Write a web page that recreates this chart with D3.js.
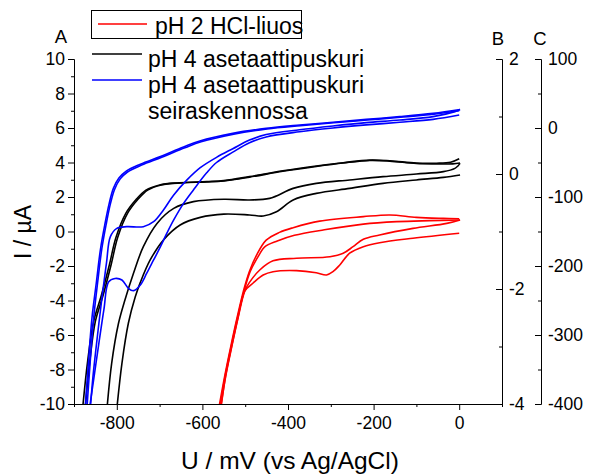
<!DOCTYPE html>
<html><head><meta charset="utf-8">
<script src="https://cdn.jsdelivr.net/npm/d3@7"></script>
<style>
body{margin:0;background:#fff;}
svg{display:block;font-family:"Liberation Sans",Arial,Helvetica,sans-serif;}
</style></head><body>
<svg id="chart" width="593" height="475"></svg>
<script>
// ---- tick labels / axes values ----
const xMajorTicks = [-800, -600, -400, -200, 0];
const xMinorTicks = [-900, -700, -500, -300, -100, 100];
const aMajorTicks = [-10, -8, -6, -4, -2, 0, 2, 4, 6, 8, 10];
const aMinorTicks = [-9, -7, -5, -3, -1, 1, 3, 5, 7, 9];
const bMajorTicks = [-4, -2, 0, 2];
const bMinorTicks = [-3, -1, 1];
const cMajorTicks = [-400, -300, -200, -100, 0, 100];
const cMinorTicks = [-350, -250, -150, -50, 50];
const legendLabels = ["pH 2 HCl-liuos", "pH 4 asetaattipuskuri", "pH 4 asetaattipuskuri", "seiraskennossa"];

// ---- series: [U (mV), I (µA)] ----
// pH 2 HCl-liuos (red)
const redScan1Neg = [[0,-0.1],[-108,-0.39],[-186,-0.65],[-224,-0.88],[-256,-1.26],[-279,-1.94],[-295,-2.33],[-310,-2.52],[-334,-2.39],[-380,-2.27],[-435,-2.33],[-458,-2.52],[-482,-3.0],[-501,-3.45],[-517,-5.0],[-532,-6.7],[-546,-8.4],[-557,-10.3]];
const redScan1Pos = [[-560,-10.3],[-547,-8.4],[-533,-6.7],[-518,-5.0],[-502,-3.4],[-488,-2.3],[-466,-1.3],[-455,-0.9],[-425,-0.55],[-385,-0.22],[-315,0.1],[-224,0.43],[-146,0.57],[-69,0.63],[2,0.67]];
const redScan2Neg = [[2,0.67],[-29,0.47],[-108,0.18],[-186,-0.2],[-224,-0.45],[-248,-0.88],[-271,-1.26],[-302,-1.46],[-380,-1.55],[-435,-1.7],[-466,-2.23],[-490,-2.95],[-501,-3.45],[-517,-5.05],[-532,-6.75],[-546,-8.45],[-558,-10.3]];
const redScan2Pos = [[-562,-10.3],[-548,-8.4],[-534,-6.7],[-519,-5.0],[-503,-3.35],[-490,-2.3],[-474,-1.4],[-451,-0.5],[-420,-0.05],[-388,0.22],[-326,0.6],[-224,0.86],[-162,0.96],[-100,0.82],[-37,0.76],[0,0.74]];

// pH 4 asetaattipuskuri (black)
const blackScan1Neg = [[2,3.28],[-37,3.14],[-100,2.99],[-178,2.79],[-256,2.5],[-334,2.21],[-388,1.83],[-427,1.15],[-458,0.9],[-490,0.96],[-550,1.01],[-605,0.82],[-652,0.38],[-691,-0.49],[-722,-1.65],[-745,-2.95],[-757,-3.8],[-773,-5.32],[-788,-7.64],[-800,-10.3]];
const blackScan1Pos = [[-874,-10.3],[-863,-7.5],[-850,-5.2],[-832,-3.7],[-813,-1.9],[-798,-0.35],[-775,1.05],[-751,1.85],[-728,2.4],[-696,2.7],[-650,2.82],[-590,2.87],[-550,2.93],[-490,3.15],[-412,3.49],[-334,3.77],[-271,3.97],[-209,4.12],[-162,4.08],[-100,3.94],[-53,3.92],[-15,3.92],[2,3.97]];
const blackScan2Neg = [[2,3.95],[-3,3.8],[-10,3.66],[-37,3.47],[-100,3.33],[-178,3.18],[-256,2.99],[-334,2.79],[-388,2.5],[-443,1.92],[-490,1.83],[-550,1.87],[-621,1.73],[-667,1.34],[-706,0.47],[-738,-0.88],[-761,-2.42],[-781,-3.97],[-796,-5.32],[-812,-7.64],[-823,-10.3]];
const blackScan2Pos = [[-880,-10.3],[-868,-7.5],[-854,-5.2],[-836,-3.7],[-817,-1.9],[-802,-0.35],[-779,1.05],[-755,1.85],[-732,2.4],[-700,2.7],[-654,2.82],[-590,2.89],[-550,2.95],[-490,3.18],[-412,3.52],[-334,3.8],[-271,3.99],[-209,4.14],[-162,4.1],[-100,3.97],[-53,3.96],[-20,4.02],[0,4.22]];

// pH 4 asetaattipuskuri seiraskennossa (blue)
const blueScan1Neg = [[0,6.75],[-61,6.5],[-139,6.33],[-217,6.18],[-295,6.0],[-373,5.78],[-451,5.48],[-490,5.15],[-529,4.6],[-567,4.0],[-590,3.4],[-621,2.41],[-644,1.63],[-667,0.67],[-683,-0.1],[-698,-0.88],[-714,-1.65],[-730,-2.42],[-745,-3.1],[-761,-3.43],[-773,-3.29],[-788,-2.81],[-804,-2.72],[-819,-2.91],[-830,-4.5],[-842,-6.5],[-853,-8.4],[-864,-10.3]];
const blueScan1Pos = [[-874,-10.3],[-866,-7.5],[-858,-5],[-848,-3],[-838,-1],[-828,0.4],[-818,1.6],[-808,2.5],[-795,3.1],[-778,3.5],[-745,3.9],[-698,4.35],[-644,4.9],[-606,5.25],[-529,5.69],[-451,5.98],[-373,6.17],[-295,6.33],[-217,6.5],[-139,6.66],[-61,6.85],[2,7.07]];
const blueScan2Neg = [[2,7.07],[-10,6.95],[-61,6.66],[-139,6.46],[-217,6.31],[-295,6.12],[-373,5.9],[-451,5.62],[-490,5.3],[-529,4.8],[-567,4.3],[-605,3.7],[-636,2.99],[-667,2.12],[-691,1.25],[-714,0.57],[-738,0.28],[-777,0.28],[-800,0.18],[-815,-0.3],[-824,-1.8],[-833,-3.5],[-845,-6],[-856,-8.5],[-862,-10.3]];
const blueScan2Pos = [[-870,-10.3],[-862,-7.5],[-854,-5],[-845,-3],[-835,-1],[-825,0.4],[-815,1.6],[-805,2.45],[-792,3.05],[-775,3.45],[-742,3.85],[-695,4.3],[-641,4.85],[-603,5.2],[-527,5.64],[-449,5.94],[-371,6.13],[-293,6.3],[-215,6.46],[-137,6.62],[-59,6.8],[0,7.0]];

const seriesColors = ["#ff0000", "#000000", "#0000ff"];
const seriesData = [
  [redScan1Neg, redScan1Pos, redScan2Neg, redScan2Pos],
  [blackScan1Neg, blackScan1Pos, blackScan2Neg, blackScan2Pos],
  [blueScan1Neg, blueScan1Pos, blueScan2Neg, blueScan2Pos]
];

// ---- layout ----
const svg = d3.select("#chart");
const plotLeft = 74, plotRight = 502, plotTop = 59, plotBottom = 404, cAxisX = 541;
const x = d3.scaleLinear().domain([-900, 100]).range([plotLeft, plotRight]);
const yA = d3.scaleLinear().domain([-10, 10]).range([plotBottom, plotTop]);
const yB = d3.scaleLinear().domain([-4, 2]).range([plotBottom, plotTop]);
const yC = d3.scaleLinear().domain([-400, 100]).range([plotBottom, plotTop]);
const FONT = '"Liberation Sans", Arial, Helvetica, sans-serif';
const fmt = d => String(d);

function style(g, fs) {
  g.selectAll("path.domain").attr("stroke", "#000").attr("stroke-width", 1);
  g.selectAll(".tick line").attr("stroke", "#000").attr("stroke-width", 1);
  g.selectAll("text").attr("font-size", fs).attr("font-family", FONT).attr("fill", "#000");
}

// clip
svg.append("defs").append("clipPath").attr("id", "plotclip")
  .append("rect").attr("x", plotLeft).attr("y", plotTop).attr("width", plotRight - plotLeft).attr("height", plotBottom - plotTop);

// curves
const line = d3.line().x(d => x(d[0])).y(d => yA(d[1])).curve(d3.curveCatmullRom.alpha(0.5));
const plot = svg.append("g").attr("clip-path", "url(#plotclip)");
seriesData.forEach((branches, i) => {
  branches.forEach(b => {
    plot.append("path").attr("d", line(b)).attr("fill", "none")
      .attr("stroke", seriesColors[i]).attr("stroke-width", 1.6).attr("stroke-linejoin", "round");
  });
});

// x axis
const gxMinor = svg.append("g").attr("transform", `translate(0,${plotBottom})`)
  .call(d3.axisBottom(x).tickValues(xMinorTicks).tickSize(3).tickSizeOuter(0).tickFormat(""));
style(gxMinor, 17);
const gx = svg.append("g").attr("transform", `translate(0,${plotBottom})`)
  .call(d3.axisBottom(x).tickValues(xMajorTicks).tickSize(6).tickSizeOuter(0).tickPadding(7).tickFormat(fmt));
style(gx, 17.5);

// A axis
const gaMinor = svg.append("g").attr("transform", `translate(${plotLeft},0)`)
  .call(d3.axisLeft(yA).tickValues(aMinorTicks).tickSize(3).tickSizeOuter(0).tickFormat(""));
style(gaMinor, 17);
const ga = svg.append("g").attr("transform", `translate(${plotLeft},0)`)
  .call(d3.axisLeft(yA).tickValues(aMajorTicks).tickSize(6).tickSizeOuter(0).tickPadding(3).tickFormat(fmt));
style(ga, 17.5);

// B axis
const gbMinor = svg.append("g").attr("transform", `translate(${plotRight},0)`)
  .call(d3.axisRight(yB).tickValues(bMinorTicks).tickSize(-3).tickSizeOuter(0).tickFormat(""));
style(gbMinor, 17);
const gb = svg.append("g").attr("transform", `translate(${plotRight},0)`)
  .call(d3.axisRight(yB).tickValues(bMajorTicks).tickSize(-6).tickSizeOuter(0).tickPadding(7).tickFormat(fmt));
style(gb, 17.5);

// C axis
const gcMinor = svg.append("g").attr("transform", `translate(${cAxisX},0)`)
  .call(d3.axisRight(yC).tickValues(cMinorTicks).tickSize(-3).tickSizeOuter(0).tickFormat(""));
style(gcMinor, 17);
const gc = svg.append("g").attr("transform", `translate(${cAxisX},0)`)
  .call(d3.axisRight(yC).tickValues(cMajorTicks).tickSize(-6).tickSizeOuter(0).tickPadding(7).tickFormat(fmt));
style(gc, 17.5);

// axis letters
const letters = [["A", 61, 43], ["B", 498, 45], ["C", 540, 45]];
letters.forEach(l => svg.append("text").attr("x", l[1]).attr("y", l[2]).attr("text-anchor", "middle")
  .attr("font-size", 18.5).attr("font-family", FONT).text(l[0]));

// titles
svg.append("text").attr("x", 290).attr("y", 469).attr("text-anchor", "middle")
  .attr("font-size", 24.5).attr("font-family", FONT).text("U / mV (vs Ag/AgCl)");
svg.append("text").attr("transform", "translate(31,232) rotate(-90)").attr("text-anchor", "middle")
  .attr("font-size", 23).attr("font-family", FONT).text("I / µA");

// legend
const lg = svg.append("g");
lg.append("rect").attr("x", 91.5).attr("y", 10.5).attr("width", 210).attr("height", 28)
  .attr("fill", "none").attr("stroke", "#000").attr("stroke-width", 1);
lg.append("line").attr("x1", 98).attr("x2", 147).attr("y1", 24).attr("y2", 24).attr("stroke", seriesColors[0]).attr("stroke-width", 1.6);
lg.append("text").attr("x", 155).attr("y", 34).attr("font-size", 23).attr("font-family", FONT).text(legendLabels[0]);
lg.append("line").attr("x1", 92).attr("x2", 142).attr("y1", 54).attr("y2", 54).attr("stroke", seriesColors[1]).attr("stroke-width", 1.6);
lg.append("text").attr("x", 148).attr("y", 67).attr("font-size", 23).attr("font-family", FONT).text(legendLabels[1]);
lg.append("line").attr("x1", 92).attr("x2", 142).attr("y1", 80).attr("y2", 80).attr("stroke", seriesColors[2]).attr("stroke-width", 1.6);
lg.append("text").attr("x", 148).attr("y", 93).attr("font-size", 23).attr("font-family", FONT).text(legendLabels[2]);
lg.append("text").attr("x", 148).attr("y", 119).attr("font-size", 23).attr("font-family", FONT).text(legendLabels[3]);
</script>
</body></html>
